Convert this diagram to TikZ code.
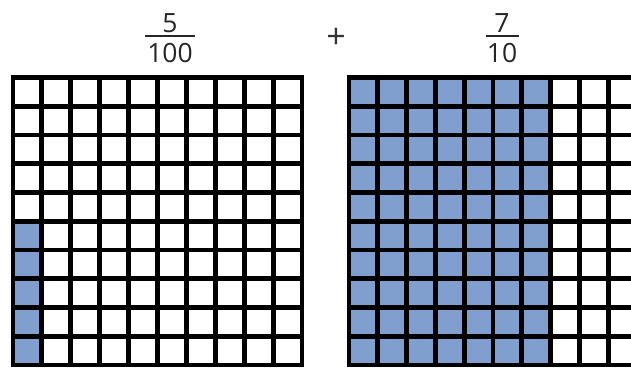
\documentclass[tikz,border=0pt]{standalone}
\usepackage{fontspec}
\setmainfont{Open Sans}
\definecolor{cellblue}{RGB}{128,158,206}
\begin{document}
\begin{tikzpicture}[x=1pt,y=-1pt,
  gridline/.style={line width=4.9pt,black},
  fracbar/.style={line width=2pt,black!85},
  numtext/.style={font=\fontsize{26.5}{30}\selectfont,anchor=base,inner sep=0pt,text=black!85}]
\useasboundingbox (0,0) rectangle (631,367);
\clip (0,0) rectangle (631,367);
\fill[white] (0,0) rectangle (631,367);
% fractions
\node[numtext] (n1) at (170,32) {5};
\node[numtext] (d1) at (170,62) {100};
\draw[fracbar] (145,36) -- (195,36);
\node[numtext] (n2) at (502,32) {7};
\node[numtext] (d2) at (502,62) {10};
\draw[fracbar] (486,36) -- (519,36);
\node[font=\fontsize{34}{38}\selectfont,inner sep=0pt,text=black!80] (plus) at (336,38) {+};
% left grid
\foreach \r in {5,...,9}
  \fill[cellblue] (13,77.5+\r*28.75) rectangle ++(28.9,28.75);
\foreach \i in {1,...,9} {
  \draw[gridline] (13+\i*28.9,77.5) -- (13+\i*28.9,365);
  \draw[gridline] (13,77.5+\i*28.75) -- (302,77.5+\i*28.75);
}
\draw[gridline] (13,77.5) rectangle (302,365);
% right grid
\fill[cellblue] (349,77.5) rectangle (349+7*28.8,365);
\foreach \i in {1,...,9} {
  \draw[gridline] (349+\i*28.8,77.5) -- (349+\i*28.8,365);
  \draw[gridline] (349,77.5+\i*28.75) -- (637,77.5+\i*28.75);
}
\draw[gridline] (349,77.5) rectangle (637,365);
\end{tikzpicture}
\end{document}
